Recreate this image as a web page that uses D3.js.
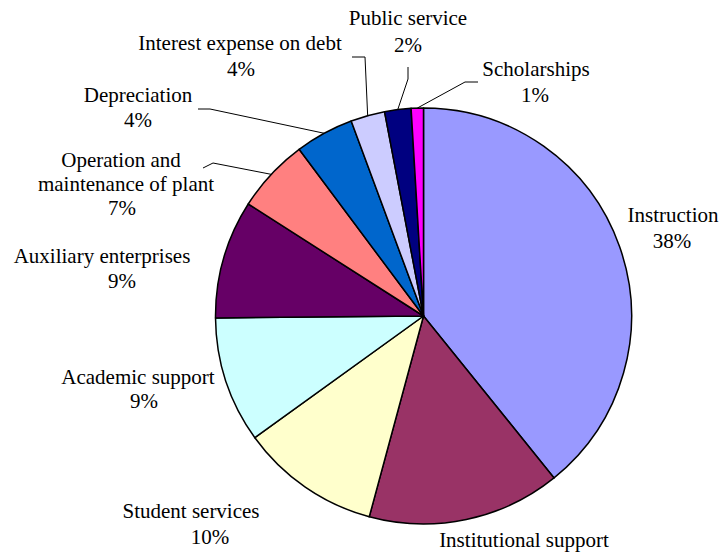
<!DOCTYPE html>
<html>
<head>
<meta charset="utf-8">
<script src="https://cdn.jsdelivr.net/npm/d3@7"></script>
<style>
  body { margin: 0; background: #fff; }
  #chart { position: relative; width: 721px; height: 554px; overflow: hidden; }
  #chart svg { position: absolute; left: 0; top: 0; }
  .label {
    position: absolute;
    transform: translateX(-50%);
    white-space: nowrap;
    font-family: Liberation Serif, Times New Roman, serif;
    font-size: 21px;
    line-height: 21px;
    color: #000;
  }
</style>
</head>
<body>
<div id="chart"></div>
<script>
// categories, clockwise from 12 o'clock
const categories = [
  "Instruction", "Institutional support", "Student services", "Academic support",
  "Auxiliary enterprises", "Operation and maintenance of plant", "Depreciation",
  "Interest expense on debt", "Public service", "Scholarships"
];
// share of total expenses (percent)
const values = [39.2, 15.0, 10.85, 9.8, 9.2, 5.75, 4.55, 2.65, 2.05, 0.95];
// percent labels as printed on the chart (the 15% one falls below the frame)
const pctLabels = ["38%", "15%", "10%", "9%", "9%", "7%", "4%", "4%", "2%", "1%"];
const colors = ["#9999FF", "#993366", "#FFFFCC", "#CCFFFF", "#660066",
                "#FF8080", "#0066CC", "#CCCCFF", "#000080", "#FF00FF"];

const width = 721, height = 554;
const cx = 423.5, cy = 316, radius = 208;
const baselineOffset = 17.6; // from line top to baseline at 21px / 21px line height

// label layout: text lines with their centre x and baseline y (null = percent line)
const labelLayout = [
  [["Instruction", 673, 223], [null, 672, 249]],
  [["Institutional support", 524, 548]],
  [["Student services", 191, 519], [null, 210, 545]],
  [["Academic support", 138, 385], [null, 144, 409]],
  [["Auxiliary enterprises", 102, 264], [null, 122, 289]],
  [["Operation and", 121, 168], ["maintenance of plant", 126, 192], [null, 122, 216]],
  [["Depreciation", 138, 103], [null, 138, 128]],
  [["Interest expense on debt", 240, 51], [null, 241, 77]],
  [["Public service", 408, 26], [null, 408, 53]],
  [["Scholarships", 536, 77], [null, 535, 103]]
];
// leader lines for the small slices: [slice index, elbow point, end point]
const leaders = [
  [5, [213, 163], [203, 168]],
  [6, [210, 109], [198, 109]],
  [7, [365, 57], [352, 57]],
  [8, [408, 79], [408, 67]],
  [9, [465, 82], [478, 82]]
];

const chart = d3.select("#chart");

const svg = chart
  .append("svg")
  .attr("width", width)
  .attr("height", height);

const g = svg.append("g")
  .attr("transform", "translate(" + cx + "," + cy + ")");

const pie = d3.pie().sort(null).value(d => d);
const arcs = pie(values);
const arc = d3.arc().innerRadius(0).outerRadius(radius);

g.selectAll("path.slice")
  .data(arcs)
  .enter()
  .append("path")
  .attr("class", "slice")
  .attr("d", arc)
  .attr("fill", (d, i) => colors[i])
  .attr("stroke", "#000")
  .attr("stroke-width", 1.5)
  .attr("stroke-linejoin", "round");

// leader lines start at the middle of each slice's outer edge
leaders.forEach(([i, elbow, end]) => {
  const a = (arcs[i].startAngle + arcs[i].endAngle) / 2;
  const start = [cx + radius * Math.sin(a), cy - radius * Math.cos(a)];
  svg.append("path")
    .attr("d", d3.line()([start, elbow, end]))
    .attr("fill", "none")
    .attr("stroke", "#000")
    .attr("stroke-width", 1);
});

// labels as html text laid over the svg
labelLayout.forEach((lines, i) => {
  lines.forEach(([txt, x, y]) => {
    chart.append("div")
      .attr("class", "label")
      .style("left", x + "px")
      .style("top", (y - baselineOffset) + "px")
      .text(txt === null ? pctLabels[i] : txt);
  });
});
</script>
</body>
</html>
